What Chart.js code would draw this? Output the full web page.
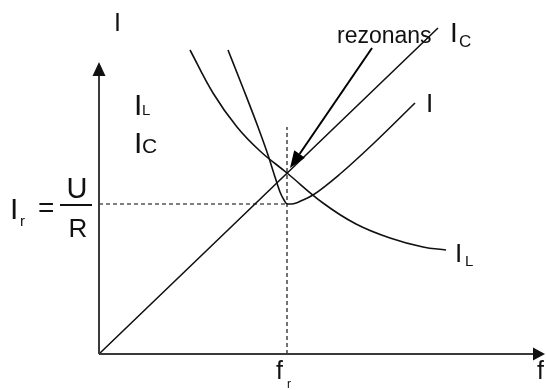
<!DOCTYPE html>
<html>
<head>
<meta charset="utf-8">
<script src="https://cdn.jsdelivr.net/npm/chart.js@4/dist/chart.umd.min.js"></script>
<style>
  html, body { margin: 0; padding: 0; background: #fff; }
  #wrap { width: 546px; height: 390px; position: relative; }
</style>
</head>
<body>
<div id="wrap"><canvas id="c"></canvas></div>
<script>
// ---- data (frequency f, current I in arbitrary units) ----
const icF = [0, 339];
const icI = [0, 326];

const ilF = [91, 114, 138, 161, 188, 224, 257, 291, 324, 347];
const ilI = [304, 261, 227, 203, 181, 151, 130, 116, 107, 104];

const iF = [129, 144, 159, 169, 176, 181, 185, 188, 193, 204, 214, 241, 274, 316];
const iI = [304, 266, 227, 199, 177, 162, 154, 150, 150, 154, 159, 180, 210, 251];

const resF = 188;      // f_r
const resI = 150;      // I_r = U/R
const resTopI = 227;   // top of dashed f_r guide
const axisMaxF = 446;
const axisMaxI = 292;
const arrowFrom = [273, 306];   // "rezonans" pointer start
const arrowTo = [191, 186];     // pointer tip

const toXY = (xs, ys) => xs.map((x, i) => ({ x: x, y: ys[i] }));

const curve = (data, mode) => ({
  data: data, showLine: true, pointRadius: 0, borderColor: '#111',
  borderWidth: 1.6, tension: 0.4, cubicInterpolationMode: mode || 'default', fill: false, clip: false
});
const dashed = (data) => ({
  data: data, showLine: true, pointRadius: 0, borderColor: '#000',
  borderWidth: 1.1, borderDash: [4, 3], fill: false, clip: false
});

const decor = {
  id: 'decor',
  afterDatasetsDraw(chart) {
    const ctx = chart.ctx;
    const xs = chart.scales.x, ys = chart.scales.y;
    const X = v => xs.getPixelForValue(v), Y = v => ys.getPixelForValue(v);
    ctx.save();
    // axes
    ctx.strokeStyle = '#3a3a3a'; ctx.fillStyle = '#111'; ctx.lineWidth = 2;
    ctx.beginPath();
    ctx.moveTo(X(0), Y(0)); ctx.lineTo(X(0), Y(axisMaxI) + 10);
    ctx.moveTo(X(0), Y(0)); ctx.lineTo(X(axisMaxF) - 10, Y(0));
    ctx.stroke();
    // arrowheads
    ctx.beginPath();
    ctx.moveTo(X(0), Y(axisMaxI)); ctx.lineTo(X(0) - 6.5, Y(axisMaxI) + 14); ctx.lineTo(X(0) + 6.5, Y(axisMaxI) + 14); ctx.closePath();
    ctx.fill();
    ctx.beginPath();
    ctx.moveTo(X(axisMaxF), Y(0)); ctx.lineTo(X(axisMaxF) - 12, Y(0) - 6.5); ctx.lineTo(X(axisMaxF) - 12, Y(0) + 6.5); ctx.closePath();
    ctx.fill();
    // resonance pointer
    const x1 = X(arrowFrom[0]), y1 = Y(arrowFrom[1]), x2 = X(arrowTo[0]), y2 = Y(arrowTo[1]);
    const ang = Math.atan2(y2 - y1, x2 - x1), L = 17, W = 6.5;
    const bx = x2 - L * Math.cos(ang), by = y2 - L * Math.sin(ang);
    ctx.strokeStyle = '#000'; ctx.lineWidth = 2;
    ctx.beginPath(); ctx.moveTo(x1, y1); ctx.lineTo(bx, by); ctx.stroke();
    ctx.fillStyle = '#000';
    ctx.beginPath();
    ctx.moveTo(x2, y2);
    ctx.lineTo(bx + W * Math.sin(ang), by - W * Math.cos(ang));
    ctx.lineTo(bx - W * Math.sin(ang), by + W * Math.cos(ang));
    ctx.closePath(); ctx.fill();
    // fraction bar for U/R
    ctx.fillStyle = '#111';
    ctx.fillRect(60, 204, 32, 2);
    // texts
    const F = 'Liberation Sans, Arial, sans-serif';
    const t = (s, x, y, size, align) => {
      ctx.font = size + 'px ' + F; ctx.textAlign = align || 'left'; ctx.textBaseline = 'alphabetic';
      ctx.fillText(s, x, y);
    };
    ctx.fillStyle = '#111';
    t('I', 114, 31, 25);
    t('I', 134, 115, 30); t('L', 142, 115, 15);
    t('I', 134, 153, 30); t('C', 142, 153, 21);
    t('I', 10, 219, 30); t('r', 20, 226, 15);
    t('=', 38, 217, 28);
    t('U', 77, 198, 29, 'center');
    t('R', 78, 237, 26, 'center');
    t('rezonans', 337, 43, 23);
    t('I', 450, 42, 28); t('C', 459, 47, 17);
    t('I', 426, 112, 26);
    t('I', 455, 262, 26); t('L', 465, 266, 15);
    t('f', 276, 379, 25); t('r', 287, 388, 12);
    t('f', 537, 379, 25);
    ctx.restore();
  }
};

new Chart(document.getElementById('c'), {
  type: 'scatter',
  data: {
    datasets: [
      curve(toXY(icF, icI)),
      curve(toXY(ilF, ilI)),
      curve(toXY(iF, iI), 'monotone'),
      dashed([{ x: resF, y: 0 }, { x: resF, y: resTopI }]),
      dashed([{ x: 0, y: resI }, { x: resF, y: resI }])
    ]
  },
  options: {
    responsive: true, maintainAspectRatio: false, animation: false,
    layout: { padding: { left: 99, right: 0, top: 0, bottom: 36 } },
    plugins: { legend: { display: false }, tooltip: { enabled: false } },
    scales: {
      x: { type: 'linear', display: false, min: 0, max: 447 },
      y: { type: 'linear', display: false, min: 0, max: 354 }
    }
  },
  plugins: [decor]
});
</script>
</body>
</html>
